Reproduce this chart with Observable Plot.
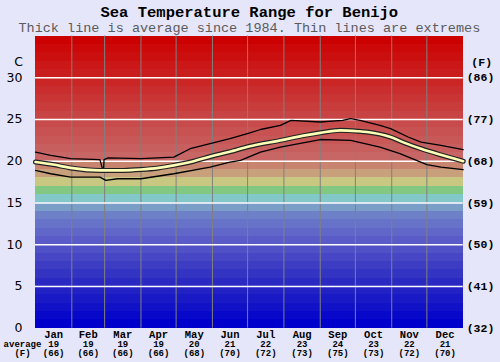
<!DOCTYPE html>
<html>
<head>
<meta charset="utf-8">
<script src="https://cdn.jsdelivr.net/npm/d3@7"></script>
<script src="https://cdn.jsdelivr.net/npm/@observablehq/plot@0.6"></script>
<style>
  html, body { margin: 0; padding: 0; background: #e6e6fa; }
  #chart { width: 500px; height: 362px; }
</style>
</head>
<body>
<div id="chart"></div>
<script>
const titleText = "Sea Temperature Range for Benijo";
const subtitleText = "Thick line is average since 1984. Thin lines are extremes";

const months = ["Jan","Feb","Mar","Apr","May","Jun","Jul","Aug","Sep","Oct","Nov","Dec"];
const monthDays = [31,28,31,30,31,30,31,31,30,31,30,31];
const monthAvgC = [19,19,19,19,20,21,22,23,24,23,22,21];
const monthAvgF = [66,66,66,66,68,70,72,73,75,73,72,70];

const yTicks = [0,5,10,15,20,25,30];

// day-of-year readings
const avgDay  = [0,15,30,55,75,90,105,118,135,150,165,183,209,230,243,260,275,283,303,315,329,345,365];
const avgTemp = [19.9,19.6,19.2,18.9,18.9,19.0,19.2,19.5,20.0,20.6,21.1,21.8,22.5,23.1,23.4,23.7,23.6,23.5,22.9,22.2,21.5,20.8,20.0];

const maxDay  = [0,13,30,55,57.5,58,58.5,62,90,118,132,149,166,183,192,209,218,243,262,269,277,294,303,318,329,346,365];
const maxTemp = [21.1,20.7,20.3,20.2,18.9,18.9,20.2,20.4,20.3,20.5,21.5,22.1,22.7,23.4,23.8,24.3,24.9,24.7,24.9,25.1,24.9,24.3,23.9,22.9,22.3,21.9,21.4];

const minDay  = [0,13,30,55,60,70,90,118,149,166,175,192,209,243,269,294,311,334,346,365];
const minTemp = [18.9,18.5,18.1,18.1,17.7,17.9,17.9,18.5,19.3,19.9,20.1,21.1,21.7,22.6,22.5,21.7,20.9,19.6,19.3,19.0];

const monthStart = [];
const monthMid = [];
{ let s = 0; monthDays.forEach(d => { monthStart.push(s); monthMid.push(s + d / 2); s += d; }); }

const bands = d3.range(0, 35);
const toRows = (xs, ys) => xs.map((d, i) => ({day: d, t: ys[i]}));
const avgRows = toRows(avgDay, avgTemp);
const maxRows = toRows(maxDay, maxTemp);
const minRows = toRows(minDay, minTemp);

const mono = "'Liberation Mono', 'DejaVu Sans Mono', monospace";
const sans = "'DejaVu Sans', sans-serif";

const chart = Plot.plot({
  width: 500,
  height: 362,
  marginTop: 35.5,
  marginBottom: 34.3,
  marginLeft: 35,
  marginRight: 37.3,
  style: {background: "transparent", overflow: "visible"},
  x: {domain: [0, 365], axis: null},
  y: {domain: [0, 35], axis: null},
  color: {
    type: "linear",
    domain: [0.5, 5.5, 10.5, 13.5, 14.5, 15.5, 16.5, 17.5, 18.5, 19.5, 20.5, 25.5, 34.5],
    range: ["#0000cc", "#2a2ac2", "#5a5ac8", "#6e80c8", "#7a9ec8", "#82c8c8", "#82c882", "#c8c882", "#c8a07c", "#c8846e", "#c86666", "#c84444", "#cc0000"],
    interpolate: "rgb"
  },
  marks: [
    Plot.rect(bands, {x1: 0, x2: 365, y1: d => d, y2: d => d + 1, fill: d => d + 0.5, shapeRendering: "crispEdges"}),
    Plot.ruleX(monthStart.slice(1), {stroke: "#808080", strokeWidth: 1}),
    Plot.ruleY(yTicks.slice(1), {stroke: "white", strokeWidth: 1.5}),
    Plot.line(maxRows, {x: "day", y: "t", stroke: "black", strokeWidth: 1.3}),
    Plot.line(minRows, {x: "day", y: "t", stroke: "black", strokeWidth: 1.3}),
    Plot.line(avgRows, {x: "day", y: "t", stroke: "#222", strokeWidth: 5, curve: "monotone-x"}),
    Plot.line(avgRows, {x: "day", y: "t", stroke: "#ffffb8", strokeWidth: 2.6, curve: "monotone-x"}),
    // left axis (C)
    Plot.text(yTicks, {y: d => d, frameAnchor: "left", dx: -13, textAnchor: "end", text: d => String(d), fontSize: 12.5, fontFamily: sans, fill: "black"}),
    Plot.text(["C"], {frameAnchor: "top-left", dx: -17, dy: 25.5, textAnchor: "middle", lineAnchor: "middle", fontSize: 12.5, fontFamily: sans, fill: "black"}),
    // right axis (F)
    Plot.text(yTicks, {y: d => d, frameAnchor: "right", dx: 3.5, textAnchor: "start", text: d => `(${Math.round(d * 9 / 5 + 32)})`, fontSize: 11.5, fontWeight: "bold", fontFamily: mono, fill: "black"}),
    Plot.text(["(F)"], {frameAnchor: "top-right", dx: 18.5, dy: 26.5, textAnchor: "middle", lineAnchor: "middle", fontSize: 11.5, fontWeight: "bold", fontFamily: mono, fill: "black"}),
    // bottom month labels
    Plot.text(months, {x: (d, i) => monthMid[i], frameAnchor: "bottom", dy: 6.5, lineAnchor: "middle", text: d => d, fontSize: 10.5, fontWeight: "bold", fontFamily: mono, fill: "black"}),
    Plot.text(monthAvgC, {x: (d, i) => monthMid[i], frameAnchor: "bottom", dy: 15.8, lineAnchor: "middle", text: d => String(d), fontSize: 9, fontWeight: "bold", fontFamily: mono, fill: "black"}),
    Plot.text(monthAvgF, {x: (d, i) => monthMid[i], frameAnchor: "bottom", dy: 25, lineAnchor: "middle", text: d => `(${d})`, fontSize: 9, fontWeight: "bold", fontFamily: mono, fill: "black"}),
    Plot.text(["average"], {frameAnchor: "bottom-left", dx: -13, dy: 15.8, textAnchor: "middle", lineAnchor: "middle", fontSize: 9, fontWeight: "bold", fontFamily: mono, fill: "black"}),
    Plot.text(["(F)"], {frameAnchor: "bottom-left", dx: -13, dy: 25, textAnchor: "middle", lineAnchor: "middle", fontSize: 9, fontWeight: "bold", fontFamily: mono, fill: "black"}),
    // title & subtitle
    Plot.text([titleText], {frameAnchor: "top", dy: -19.5, lineAnchor: "bottom", fontSize: 15.5, fontWeight: "bold", fontFamily: mono, fill: "black"}),
    Plot.text([subtitleText], {frameAnchor: "top", dy: -4, lineAnchor: "bottom", fontSize: 13.5, fontFamily: mono, fill: "#5a5a5a"})
  ]
});
document.getElementById("chart").appendChild(chart);
</script>
</body>
</html>
